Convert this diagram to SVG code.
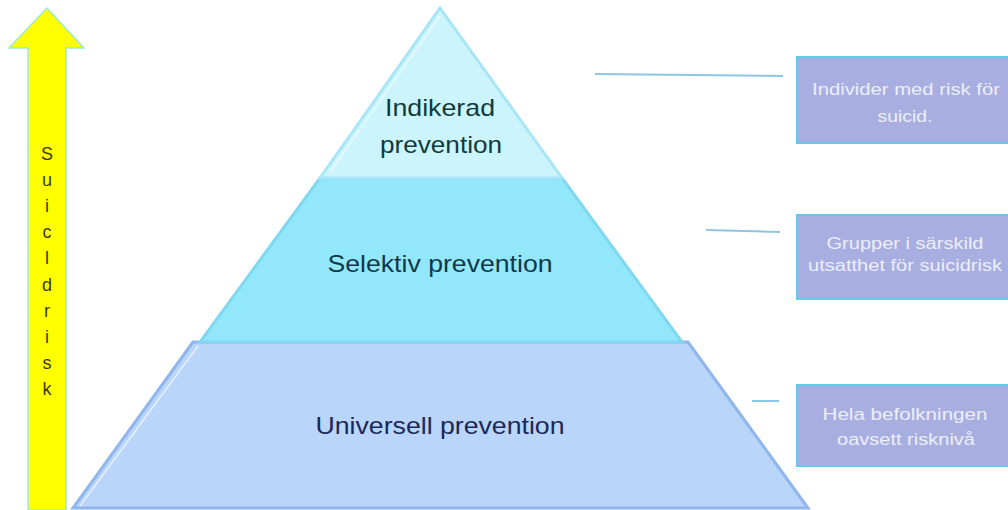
<svg xmlns="http://www.w3.org/2000/svg" width="1008" height="510" viewBox="0 0 1008 510">
<style>
.lvl{font-family:"Liberation Sans",Arial,sans-serif;font-size:24px;text-anchor:middle}
.box{fill:#a9aee0;stroke:#62c9e8;stroke-width:2}
.btxt{font-family:"Liberation Sans",Arial,sans-serif;font-size:17px;fill:#eceefa;text-anchor:middle}
.conn{stroke:#8cc6e6;stroke-width:2;fill:none}
.ax{font-family:"Liberation Sans",Arial,sans-serif;font-size:18px;fill:#3a3a00;text-anchor:middle}
</style>
<rect width="1008" height="510" fill="#ffffff"/>
<g id="arrow">
<polygon points="47,8 84,48 66,48 66,510 28,510 28,48 9,48" fill="#ffff00" stroke="#9ee8d8" stroke-width="1.5"/>
<text class="ax" x="47" y="160">S</text>
<text class="ax" x="47" y="186">u</text>
<text class="ax" x="47" y="212">i</text>
<text class="ax" x="47" y="238">c</text>
<text class="ax" x="47" y="264">l</text>
<text class="ax" x="47" y="291">d</text>
<text class="ax" x="47" y="317">r</text>
<text class="ax" x="47" y="343">i</text>
<text class="ax" x="47" y="369">s</text>
<text class="ax" x="47" y="395">k</text>
</g>
<g id="universell">
<polygon points="193,342 688,342 808,508 73,508" fill="#b9d5fa" stroke="#8fb6ee" stroke-width="3"/>
<polyline points="198,346 80,506" stroke="#e6f0ff" stroke-width="1.5" fill="none"/>
<text class="lvl" x="440" y="434" fill="#1b2858" textLength="249" lengthAdjust="spacingAndGlyphs">Universell prevention</text>
</g>
<g id="selektiv">
<polygon points="320,178 562,178 682,342 200,342" fill="#92e8fa" stroke="#7fd8f0" stroke-width="3"/>
<text class="lvl" x="440" y="272" fill="#10384a" textLength="225" lengthAdjust="spacingAndGlyphs">Selektiv prevention</text>
</g>
<g id="indikerad">
<polygon points="440,8 562,178 320,178" fill="#ccf4fc" stroke="#a6e6f6" stroke-width="3"/>
<polyline points="440,16 330,172" stroke="#e6fbff" stroke-width="1.5" fill="none"/>
<text class="lvl" x="440" y="116" fill="#0f3b3e" textLength="110" lengthAdjust="spacingAndGlyphs">Indikerad</text>
<text class="lvl" x="441" y="153" fill="#0f3b3e" textLength="122" lengthAdjust="spacingAndGlyphs">prevention</text>
</g>
<g id="connectors">
<line class="conn" x1="595" y1="74" x2="783" y2="76"/>
<line class="conn" x1="706" y1="230" x2="780" y2="232"/>
<line class="conn" x1="752" y1="401" x2="779" y2="401"/>
</g>
<g id="box1">
<rect class="box" x="797" y="57" width="214" height="86"/>
<text class="btxt" x="906" y="95" textLength="188" lengthAdjust="spacingAndGlyphs">Individer med risk för</text>
<text class="btxt" x="905" y="122" textLength="55" lengthAdjust="spacingAndGlyphs">suicid.</text>
</g>
<g id="box2">
<rect class="box" x="797" y="215" width="214" height="84"/>
<text class="btxt" x="905" y="249" textLength="157" lengthAdjust="spacingAndGlyphs">Grupper i särskild</text>
<text class="btxt" x="905" y="271" textLength="194" lengthAdjust="spacingAndGlyphs">utsatthet för suicidrisk</text>
</g>
<g id="box3">
<rect class="box" x="797" y="385" width="214" height="81"/>
<text class="btxt" x="905" y="420" textLength="165" lengthAdjust="spacingAndGlyphs">Hela befolkningen</text>
<text class="btxt" x="906" y="445" textLength="138" lengthAdjust="spacingAndGlyphs">oavsett risknivå</text>
</g>
</svg>
